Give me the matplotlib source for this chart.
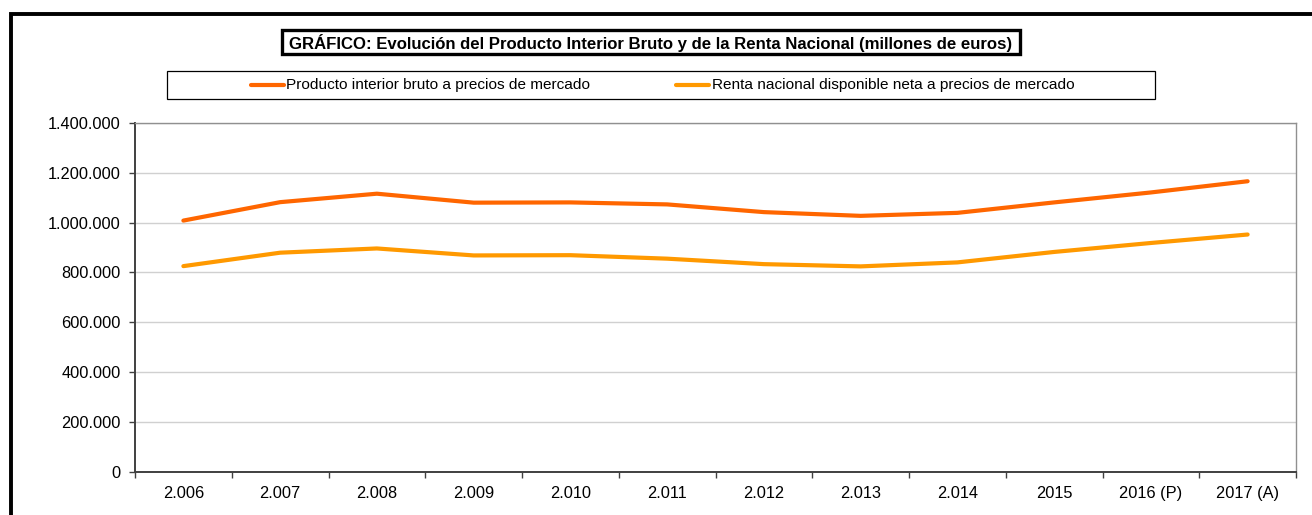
import matplotlib
matplotlib.use("Agg")
import matplotlib.pyplot as plt
from matplotlib.patches import Rectangle
from matplotlib.lines import Line2D
from matplotlib.ticker import FuncFormatter, MultipleLocator
import numpy as np

plt.rcParams['font.family'] = ['Liberation Sans', 'DejaVu Sans']

years = ["2.006", "2.007", "2.008", "2.009", "2.010", "2.011", "2.012",
         "2.013", "2.014", "2015", "2016 (P)", "2017 (A)"]
pib = [1008000, 1082000, 1116000, 1080000, 1081000, 1073000, 1042000,
       1027000, 1039000, 1081000, 1121000, 1166000]
renta = [825000, 879000, 896000, 868000, 869000, 855000, 833000,
         824000, 840000, 882000, 918000, 952000]

title = "GRÁFICO: Evolución del Producto Interior Bruto y de la Renta Nacional (millones de euros)"
lab_pib = "Producto interior bruto a precios de mercado"
lab_renta = "Renta nacional disponible neta a precios de mercado"
col_pib = "#FF6600"
col_renta = "#FF9900"

W, H = 1312, 515
fs = 11.8

def fx(px):
	return px / W

def fy(py):
	return 1 - py / H

fig = plt.figure(figsize=(W / 100, H / 100), dpi=100)
ax = fig.add_axes([fx(135), fy(471.5), fx(1296) - fx(135), fy(123) - fy(471.5)])

x = np.arange(len(years))
ax.plot(x, pib, color=col_pib, lw=3, solid_capstyle="round", solid_joinstyle="round", zorder=3)
ax.plot(x, renta, color=col_renta, lw=3, solid_capstyle="round", solid_joinstyle="round", zorder=3)

ax.set_xlim(-0.5, len(years) - 0.5)
ax.set_ylim(0, 1400000)
ax.yaxis.set_major_locator(MultipleLocator(200000))
ax.yaxis.set_major_formatter(FuncFormatter(lambda v, p: "{:,.0f}".format(v).replace(",", ".")))
ax.set_xticks(np.arange(len(years) + 1) - 0.5)
ax.set_xticklabels([])
ax.set_xticks(x, minor=True)
ax.set_xticklabels(years, minor=True)
ax.tick_params(axis="x", which="minor", length=0, labelsize=fs, pad=10.5)
ax.tick_params(axis="x", which="major", direction="out", length=4, width=1, color="#404040")
ax.tick_params(axis="y", direction="out", length=4, width=1, color="#404040", labelsize=fs, pad=6.5)
ax.grid(axis="y", color="#D0D0D0", lw=1)
ax.set_axisbelow(True)
for s in ["left", "bottom"]:
	ax.spines[s].set_color("#404040")
	ax.spines[s].set_linewidth(1.4)
for s in ["top", "right"]:
	ax.spines[s].set_color("#909090")
	ax.spines[s].set_linewidth(1)

# outer frame (runs off the right and bottom edges)
fig.patches.append(Rectangle((fx(10.5), -0.2), 1.0, fy(13.7) + 0.2, transform=fig.transFigure,
	fill=False, ec="black", lw=2.8))

# title box
fig.patches.append(Rectangle((fx(282), fy(53.8)), fx(1020) - fx(282), fy(30.3) - fy(53.8),
	transform=fig.transFigure, fill=False, ec="black", lw=2.4))
fig.text(fx(651), fy(42.5), title, ha="center", va="center", fontsize=12.1, fontweight="bold")

# legend box
fig.patches.append(Rectangle((fx(167.5), fy(99.2)), fx(1155) - fx(167.5), fy(70.5) - fy(99.2),
	transform=fig.transFigure, fill=False, ec="black", lw=0.9))
ly = fy(85)
fig.lines.append(Line2D([fx(251), fx(284)], [ly, ly], transform=fig.transFigure,
	color=col_pib, lw=3, solid_capstyle="round"))
fig.text(fx(286.5), ly, lab_pib, ha="left", va="center", fontsize=11.05)
fig.lines.append(Line2D([fx(676), fx(709)], [ly, ly], transform=fig.transFigure,
	color=col_renta, lw=3, solid_capstyle="round"))
fig.text(fx(711.5), ly, lab_renta, ha="left", va="center", fontsize=11.05)

fig.savefig("out.png", dpi=100)
